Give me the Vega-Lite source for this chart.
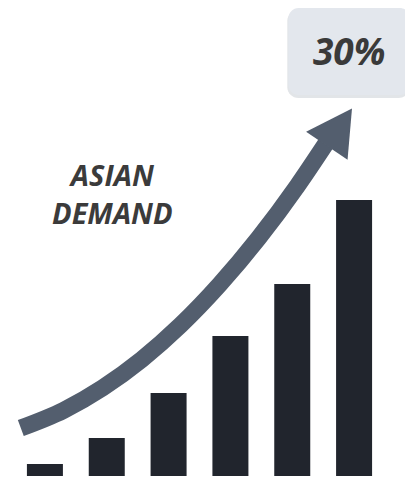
{
  "$schema": "https://vega.github.io/schema/vega-lite/v6.json",
  "width": 381,
  "height": 476,
  "padding": {"left": 9, "top": 0, "right": 15, "bottom": 2},
  "autosize": {"type": "none"},
  "background": "#ffffff",
  "config": {"view": {"stroke": null}},
  "datasets": {
    "bars": [
      {"period": 1, "demand": 3},
      {"period": 2, "demand": 9.5},
      {"period": 3, "demand": 20.75},
      {"period": 4, "demand": 35},
      {"period": 5, "demand": 48},
      {"period": 6, "demand": 69}
    ],
    "trend": [
      {"t": 0.61, "v": 12},
      {"t": 1.303, "v": 16.43},
      {"t": 1.933, "v": 22.03},
      {"t": 2.563, "v": 29.1},
      {"t": 3.193, "v": 37.7},
      {"t": 3.823, "v": 47.83},
      {"t": 4.453, "v": 59.43},
      {"t": 5.083, "v": 72.55},
      {"t": 5.539, "v": 83.0}
    ],
    "head": [{"t": 5.74, "v": 86.7}],
    "box": [{"x1": 4.94, "x2": 6.9, "y1": 95.25, "y2": 117}],
    "shadow": [{"x1": 4.92, "x2": 6.9, "y1": 94.5, "y2": 116.5}],
    "callout": [{"t": 5.92, "v": 102.75, "label": "30%"}],
    "title": [
      {"t": 2.09, "v": 72.5, "label": "ASIAN"},
      {"t": 2.09, "v": 63, "label": "DEMAND"}
    ]
  },
  "layer": [
    {
      "data": {"name": "bars"},
      "mark": {"type": "bar", "width": 36, "color": "#21252d"},
      "encoding": {
        "x": {"field": "period", "type": "quantitative", "scale": {"domain": [0.5, 6.5], "nice": false, "zero": false}, "axis": null},
        "y": {"field": "demand", "type": "quantitative", "scale": {"domain": [0, 119], "nice": false, "zero": false}, "axis": null}
      }
    },
    {
      "data": {"name": "trend"},
      "mark": {"type": "line", "color": "#535e6e", "strokeWidth": 17, "strokeCap": "butt", "interpolate": "monotone"},
      "encoding": {
        "x": {"field": "t", "type": "quantitative"},
        "y": {"field": "v", "type": "quantitative"},
        "order": {"field": "t"}
      }
    },
    {
      "data": {"name": "head"},
      "mark": {"type": "point", "shape": "M0,-1L1,0.8L-1,0.8Z", "filled": true, "color": "#535e6e", "opacity": 1, "size": 2500, "angle": 34, "strokeWidth": 0},
      "encoding": {
        "x": {"field": "t", "type": "quantitative"},
        "y": {"field": "v", "type": "quantitative"}
      }
    },
    {
      "data": {"name": "shadow"},
      "mark": {"type": "rect", "color": "#cfd3d9", "opacity": 0.6, "cornerRadius": 11},
      "encoding": {
        "x": {"field": "x1", "type": "quantitative"},
        "x2": {"field": "x2"},
        "y": {"field": "y1", "type": "quantitative"},
        "y2": {"field": "y2"}
      }
    },
    {
      "data": {"name": "box"},
      "mark": {"type": "rect", "color": "#e3e7ed", "cornerRadius": 10},
      "encoding": {
        "x": {"field": "x1", "type": "quantitative"},
        "x2": {"field": "x2"},
        "y": {"field": "y1", "type": "quantitative"},
        "y2": {"field": "y2"}
      }
    },
    {
      "data": {"name": "callout"},
      "mark": {"type": "text", "font": "Open Sans", "fontSize": 37, "fontWeight": "bold", "fontStyle": "italic", "color": "#3a3a3a", "align": "center", "baseline": "alphabetic"},
      "encoding": {
        "x": {"field": "t", "type": "quantitative"},
        "y": {"field": "v", "type": "quantitative"},
        "text": {"field": "label"}
      }
    },
    {
      "data": {"name": "title"},
      "mark": {"type": "text", "font": "Open Sans", "fontSize": 29, "fontWeight": "bold", "fontStyle": "italic", "color": "#3b3b3b", "align": "center", "baseline": "alphabetic"},
      "encoding": {
        "x": {"field": "t", "type": "quantitative"},
        "y": {"field": "v", "type": "quantitative"},
        "text": {"field": "label"}
      }
    }
  ]
}
